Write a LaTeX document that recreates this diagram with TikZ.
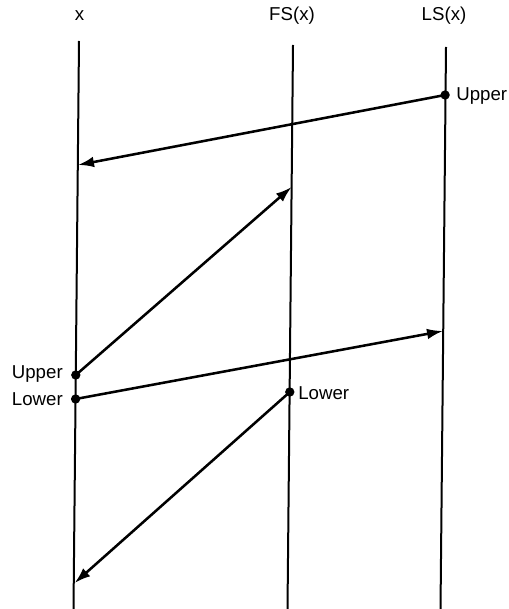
\documentclass[tikz,border=0pt]{standalone}
\usepackage{fontspec}
\setmainfont{Liberation Sans}
\usetikzlibrary{arrows.meta}
\tikzset{
  axisline/.style={line width=1.5pt},
  msg/.style={line width=1.9pt,-{Latex[length=12pt,width=8pt]}},
  dotmark/.style={circle,fill=black,inner sep=0pt,minimum size=7pt},
  lbl/.style={inner sep=0pt,font=\fontsize{14}{16}\selectfont},
}
\begin{document}
\begin{tikzpicture}[x=0.75pt,y=-0.75pt]
\useasboundingbox (0,0) rectangle (508,609);
% column headers
\node[lbl,anchor=base] (hx) at (79.5,21) {x};
\node[lbl,anchor=base] (hfs) at (292,21) {FS(x)};
\node[lbl,anchor=base] (hls) at (444,21) {LS(x)};
% time lines
\coordinate (xt) at (79,41);   \coordinate (xb) at (73.5,609);
\coordinate (ft) at (293,45);  \coordinate (fb) at (287.5,609);
\coordinate (lt) at (446,47);  \coordinate (lb) at (440.5,609);
\draw[axisline] (xt) -- (xb);
\draw[axisline] (ft) -- (fb);
\draw[axisline] (lt) -- (lb);
% event points
\node[dotmark] (lsU) at (445.1,95) {};
\node[dotmark] (xU)  at (75.8,375) {};
\node[dotmark] (xL)  at (75.6,399) {};
\node[dotmark] (fsL) at (289.8,392) {};
\coordinate (a1) at (78,165);
\coordinate (a2) at (291.6,187);
\coordinate (a3) at (443,331);
\coordinate (a4) at (74.6,583);
% labels
\node[lbl,anchor=west] (tlsU) at (456,96) {Upper};
\node[lbl,anchor=east] (txU) at (63,374) {Upper};
\node[lbl,anchor=east] (txL) at (63,399) {Lower};
\node[lbl,anchor=west] (tfsL) at (298,393) {Lower};
% messages
\draw[msg] (lsU.center) -- (a1);
\draw[msg] (xU.center) -- (a2);
\draw[msg] (xL.center) -- (a3);
\draw[msg] (fsL.center) -- (a4);
\end{tikzpicture}
\end{document}
